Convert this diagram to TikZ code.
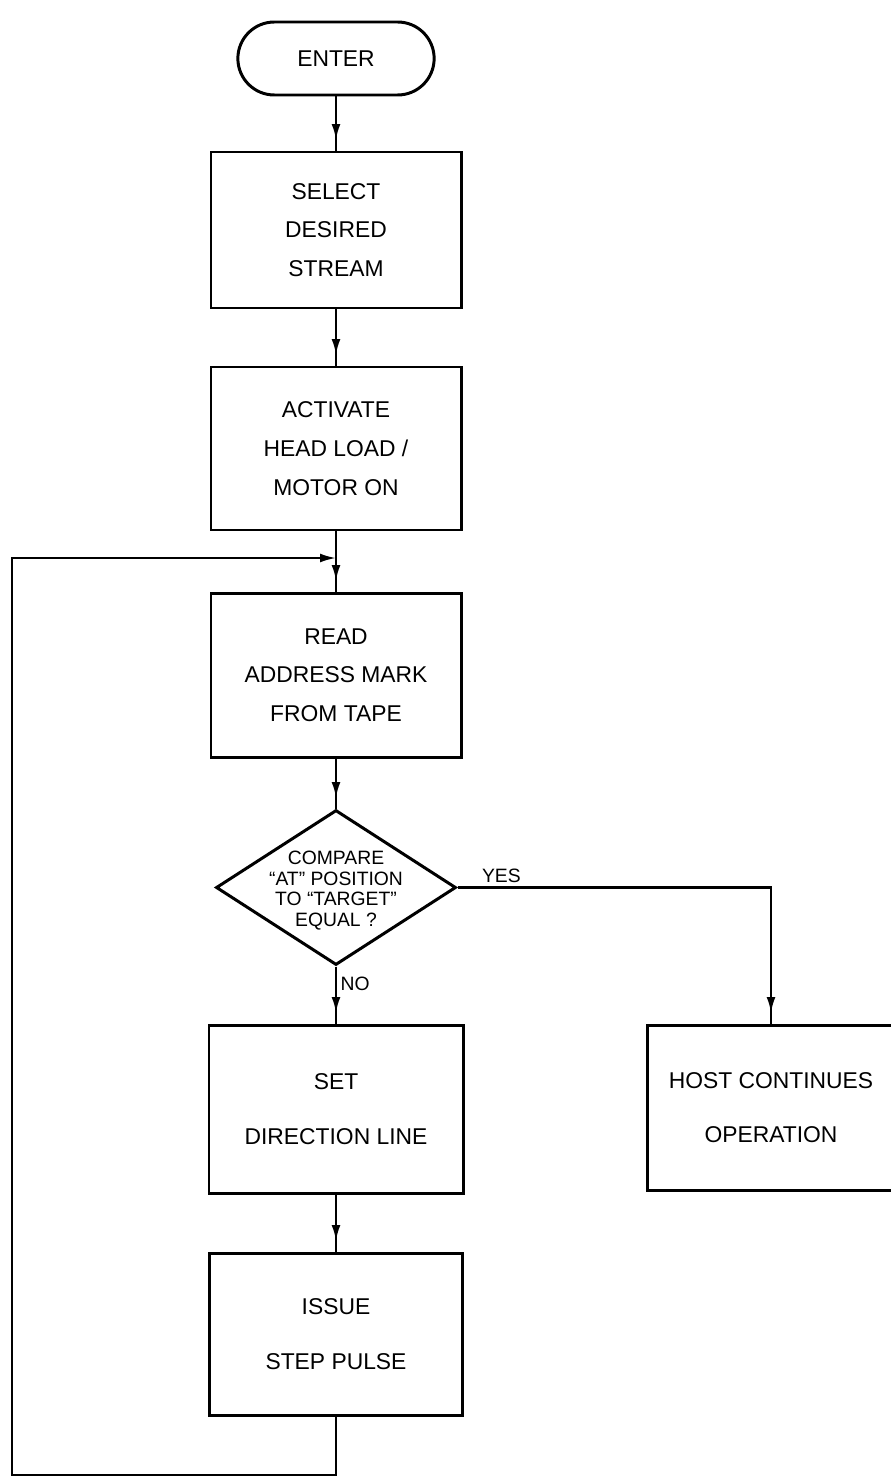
\documentclass[tikz,border=0pt]{standalone}
\usepackage{fontspec}
\setmainfont{Liberation Sans}
\usepackage{tikz}
\usetikzlibrary{shapes,arrows,positioning,calc,decorations.markings,arrows.meta}

\begin{document}
\begin{tikzpicture}[
    box/.style={draw, line width=1.7pt, rectangle, minimum width=5cm, align=center, font=\fontsize{13}{22}\selectfont},
    twoline/.style={font=\fontsize{13}{31}\selectfont},
    terminal/.style={draw, line width=1.7pt, rounded rectangle, minimum width=4.16cm, minimum height=1.46cm, font=\fontsize{13}{15}\selectfont},
    decision/.style={draw, line width=1.7pt, diamond, inner sep=0pt, minimum width=4.8cm, minimum height=3.1cm, font=\fontsize{11}{11.6}\selectfont},
    flow/.style={line width=1.3pt, postaction={decorate}, decoration={markings, mark=at position -6pt with {\arrow{Latex[length=9pt,width=5pt]}}}},
    lbl/.style={font=\fontsize{11}{12}\selectfont, inner sep=2pt}
]
    \useasboundingbox (0,0) rectangle (17.82,-29.56);

    % main column
    \node[terminal] (enter) at (6.72,-1.17) {ENTER};
    \node[box, minimum height=3.12cm] (select) at (6.72,-4.6) {SELECT\\DESIRED\\STREAM};
    \node[box, minimum height=3.26cm] (activate) at (6.72,-8.97) {ACTIVATE\\HEAD LOAD /\\MOTOR ON};
    \node[box, minimum height=3.28cm] (readmark) at (6.72,-13.5) {READ\\ADDRESS MARK\\FROM TAPE};
    \node[decision] (compare) at (6.72,-17.75) {\smash{\makebox[0pt]{\raisebox{-5pt}{\begin{tabular}{@{}c@{}}COMPARE\\``AT'' POSITION\\TO ``TARGET''\\EQUAL ?\end{tabular}}}}};
    \node[box, twoline, minimum width=5.08cm, minimum height=3.36cm] (setdir) at (6.72,-22.18) {SET\\DIRECTION LINE};
    \node[box, twoline, minimum width=5.06cm, minimum height=3.24cm] (issue) at (6.72,-26.68) {ISSUE\\STEP PULSE};
    \node[box, twoline, minimum width=4.96cm, minimum height=3.3cm] (host) at (15.42,-22.15) {HOST CONTINUES\\OPERATION};

    % connectors
    \draw[flow] (enter.south) -- (select.north);
    \draw[flow] (select.south) -- (activate.north);
    \draw[flow] (activate.south) -- (readmark.north);
    \draw[flow] (readmark.south) -- (compare.north);
    \draw[flow] (compare.south) -- node[pos=0.3, right, lbl] (nolbl) {NO} (setdir.north);
    \draw[flow] (compare.east) -| node[pos=0.07, above, lbl] (yeslbl) {YES} (host.north);
    \draw[flow] (setdir.south) -- (issue.north);

    % loop back
    \coordinate (join) at (6.72,-11.16);
    \coordinate (loopbl) at (0.24,-29.5);
    \draw[line width=1.2pt, -{Latex[length=9pt,width=5pt]}] (issue.south) |- (loopbl) |- (join);
\end{tikzpicture}
\end{document}
